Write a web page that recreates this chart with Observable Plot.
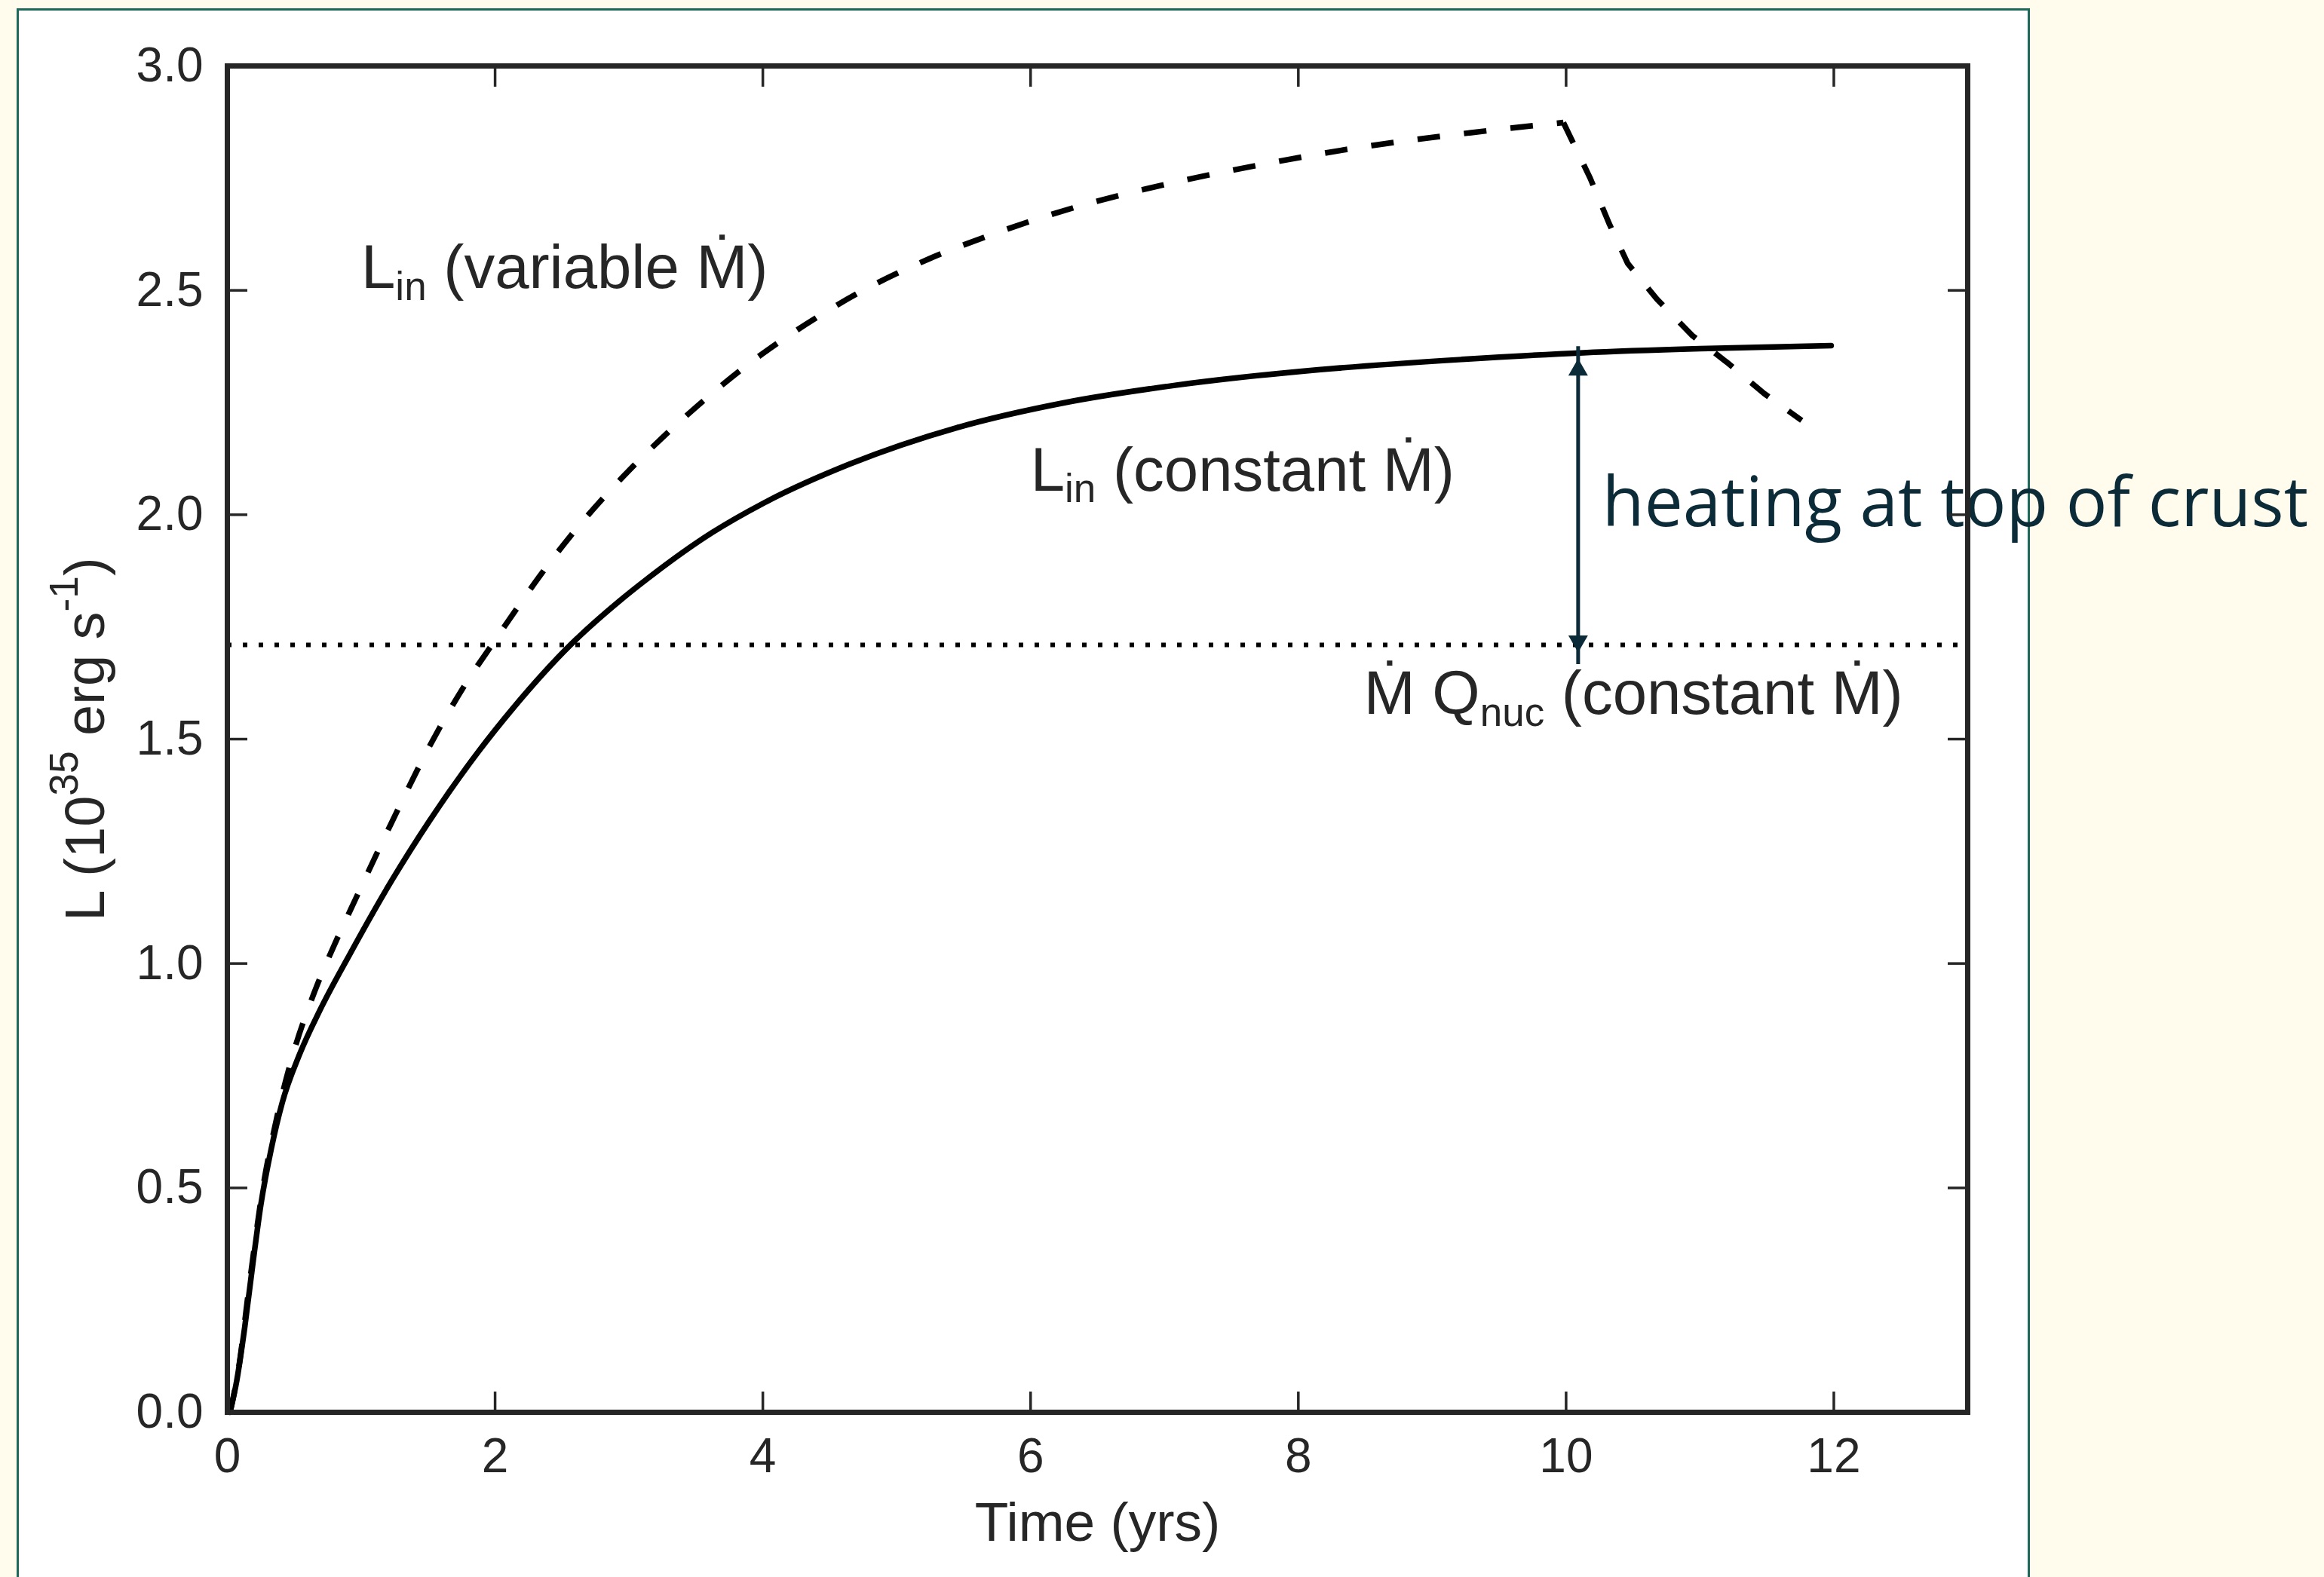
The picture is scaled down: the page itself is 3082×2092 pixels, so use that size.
<!DOCTYPE html>
<html>
<head>
<meta charset="utf-8">
<script src="https://cdn.jsdelivr.net/npm/d3@7"></script>
<script src="https://cdn.jsdelivr.net/npm/@observablehq/plot@0.6"></script>
<style>
  html, body { margin: 0; padding: 0; width: 3082px; height: 2092px; overflow: hidden; background: #fffcee; }
  #panel { position: absolute; left: 22px; top: 11px; width: 2670px; height: 2200px; box-sizing: border-box;
           background: #ffffff; border: 3px solid #1c6a5c; }
  #chart { position: absolute; left: 0; top: 0; }
</style>
</head>
<body>
<div id="panel"></div>
<div id="chart"></div>
<script>
// Inward luminosity for constant accretion rate (solid curve)
const timeConstant = [0.02, 0.07, 0.13, 0.19, 0.25, 0.33, 0.41, 0.54, 0.69, 0.91, 1.23, 1.51, 1.88, 2.14,
                      2.57, 2.93, 3.14, 3.62, 4.00, 4.65, 5.45, 6.26, 7.07, 8.15, 9.22, 10.13, 11.00, 11.98];
const lumConstant  = [0.00, 0.07, 0.19, 0.33, 0.462, 0.59, 0.69, 0.798, 0.895, 1.018, 1.186, 1.318, 1.474, 1.571,
                      1.712, 1.808, 1.858, 1.960, 2.025, 2.113, 2.194, 2.250, 2.288, 2.323, 2.346, 2.361, 2.370, 2.377];

// Inward luminosity for variable accretion rate (dashed curve)
const timeVariable = [0.02, 0.08, 0.17, 0.26, 0.37, 0.48, 0.65, 0.80, 0.93, 1.23, 1.53, 1.79, 1.99, 2.16, 2.33,
                      2.57, 2.95, 3.25, 3.51, 3.89, 4.32, 4.70, 5.24, 5.67, 6.32, 7.02, 7.72, 8.36, 9.06, 9.28,
                      9.98, 10.18, 10.32, 10.46, 10.68, 10.94, 11.20, 11.48, 11.76];
const lumVariable  = [0.00, 0.09, 0.297, 0.49, 0.657, 0.787, 0.936, 1.042, 1.126, 1.316, 1.495, 1.628, 1.716, 1.790, 1.862,
                      1.955, 2.083, 2.172, 2.242, 2.335, 2.424, 2.492, 2.570, 2.620, 2.684, 2.737, 2.780, 2.814, 2.843, 2.851,
                      2.874, 2.750, 2.650, 2.560, 2.480, 2.400, 2.340, 2.270, 2.210];

// Nuclear heating level, Mdot * Q_nuc, for constant accretion
const nuclearHeating = 1.71;

// Span of the "heating at top of crust" arrow (time, luminosity at both tips)
const heatingTime = [10.09];
const heatingLow  = [1.693];
const heatingHigh = [2.348];

const xTicks = [0, 2, 4, 6, 8, 10, 12];
const yTicks = [0, 0.5, 1.0, 1.5, 2.0, 2.5, 3.0];

const constantRows = timeConstant.map((t, i) => ({t, L: lumConstant[i]}));
const variableRows = timeVariable.map((t, i) => ({t, L: lumVariable[i]}));
// The variable-rate curve rises smoothly, then turns over sharply once the outburst ends
const peak = d3.maxIndex(variableRows, d => d.L);
const variableRise = variableRows.slice(0, peak + 1);
const variableFall = variableRows.slice(peak);
const arrowRows = heatingTime.map((t, i) => ({t, low: heatingLow[i], high: heatingHigh[i]}));

const ink = "#262626";
const teal = "#0b2b38";
const sans = "'Liberation Sans', Arial, Helvetica, sans-serif";
const blank = () => "";
const dashed = {stroke: "#000", strokeWidth: 7.5, strokeDasharray: "30,32", strokeLinecap: "butt", strokeLinejoin: "round"};

const plot = Plot.plot({
  width: 3082,
  height: 2092,
  marginTop: 87,
  marginBottom: 219,
  marginLeft: 301,
  marginRight: 473,
  x: {domain: [0, 13]},
  y: {domain: [0, 3]},
  style: {background: "transparent", fontFamily: sans, fontSize: "64px", color: ink, overflow: "visible"},
  marks: [
    // Mdot Q_nuc level
    Plot.ruleY([nuclearHeating], {stroke: "#000", strokeWidth: 6, strokeDasharray: "6,15", strokeLinecap: "butt"}),

    // L_in, variable Mdot
    Plot.line(variableRise, {x: "t", y: "L", ...dashed, curve: "monotone-x"}),
    Plot.line(variableFall, {x: "t", y: "L", ...dashed, curve: "linear"}),
    // L_in, constant Mdot
    Plot.line(constantRows, {x: "t", y: "L", stroke: "#000", strokeWidth: 7.5, strokeLinecap: "round",
                             curve: "monotone-x"}),

    // Double-headed arrow: heating at top of crust
    Plot.ruleX(arrowRows, {x: "t", y1: "low", y2: "high", stroke: teal, strokeWidth: 5, insetTop: 16, insetBottom: 16}),
    Plot.dot(arrowRows, {x: "t", y: "high", symbol: "triangle", r: 9.65, fill: teal, stroke: "none", dy: 15}),
    Plot.dot(arrowRows, {x: "t", y: "low", symbol: "triangle", r: 9.65, fill: teal, stroke: "none", dy: -15, rotate: 180}),

    // Curve annotations
    Plot.text(["L_{in} (variable Ṁ)"], {x: 1.0, y: 2.505, text: d => d, textAnchor: "start", lineAnchor: "bottom",
                                         fontSize: 81.5, fill: ink}),
    Plot.text(["L_{in} (constant Ṁ)"], {x: 6.0, y: 2.054, text: d => d, textAnchor: "start", lineAnchor: "bottom",
                                         fontSize: 81.5, fill: ink}),
    Plot.text(["Ṁ Q_{nuc} (constant Ṁ)"], {x: 8.49, y: 1.556, text: d => d, textAnchor: "start", lineAnchor: "bottom",
                                            fontSize: 81.5, fill: ink}),
    Plot.text(["heating at top of crust"], {x: 10.27, y: 1.975, text: d => d, textAnchor: "start", lineAnchor: "bottom",
                                            fontSize: 91, fontFamily: "'Open Sans', sans-serif", fill: teal}),

    // Axes: inward ticks on all four sides
    Plot.axisX(xTicks, {anchor: "bottom", tickSize: -27, tickPadding: 61, tickFormat: d3.format("d"),
                        color: ink, strokeWidth: 3.5, fontSize: 64, label: null}),
    Plot.axisX(xTicks, {anchor: "top", tickSize: -27, tickFormat: blank, color: ink, strokeWidth: 3.5, label: null}),
    Plot.axisY(yTicks, {anchor: "left", tickSize: -27, tickPadding: 59, tickFormat: d3.format(".1f"),
                        color: ink, strokeWidth: 3.5, fontSize: 64, label: null}),
    Plot.axisY(yTicks, {anchor: "right", tickSize: -27, tickFormat: blank, color: ink, strokeWidth: 3.5, label: null}),

    // Axis titles
    Plot.text(["Time (yrs)"], {frameAnchor: "bottom", text: d => d, lineAnchor: "bottom", dy: 170,
                               fontSize: 73, fill: ink}),
    Plot.text(["L (10^{35} erg s^{-1})"], {frameAnchor: "left", text: d => d, rotate: -90, textAnchor: "middle",
                                            lineAnchor: "bottom", dx: -164, fontSize: 74, fill: ink}),

    Plot.frame({stroke: ink, strokeWidth: 7})
  ]
});

document.getElementById("chart").appendChild(plot);

// Turn _{...} and ^{...} into sub- and superscript tspans
function applyScripts(root) {
  root.querySelectorAll("text").forEach(el => {
    const s = el.textContent;
    if (!/[_^]\{/.test(s)) return;
    const base = parseFloat(getComputedStyle(el).fontSize);
    const parts = [];
    const re = /([_^])\{([^}]*)\}/g;
    let last = 0, m;
    while ((m = re.exec(s))) {
      if (m.index > last) parts.push({text: s.slice(last, m.index), kind: ""});
      parts.push({text: m[2], kind: m[1]});
      last = re.lastIndex;
    }
    if (last < s.length) parts.push({text: s.slice(last), kind: ""});
    el.textContent = "";
    let offset = 0;
    for (const p of parts) {
      const target = p.kind === "_" ? 0.19 * base : p.kind === "^" ? -0.47 * base : 0;
      const size = p.kind === "_" ? 0.65 * base : p.kind === "^" ? 0.72 * base : base;
      const ts = document.createElementNS("http://www.w3.org/2000/svg", "tspan");
      ts.setAttribute("font-size", size);
      if (target !== offset) ts.setAttribute("dy", target - offset);
      ts.textContent = p.text;
      el.appendChild(ts);
      offset = target;
    }
  });
}
applyScripts(plot);
</script>
</body>
</html>
